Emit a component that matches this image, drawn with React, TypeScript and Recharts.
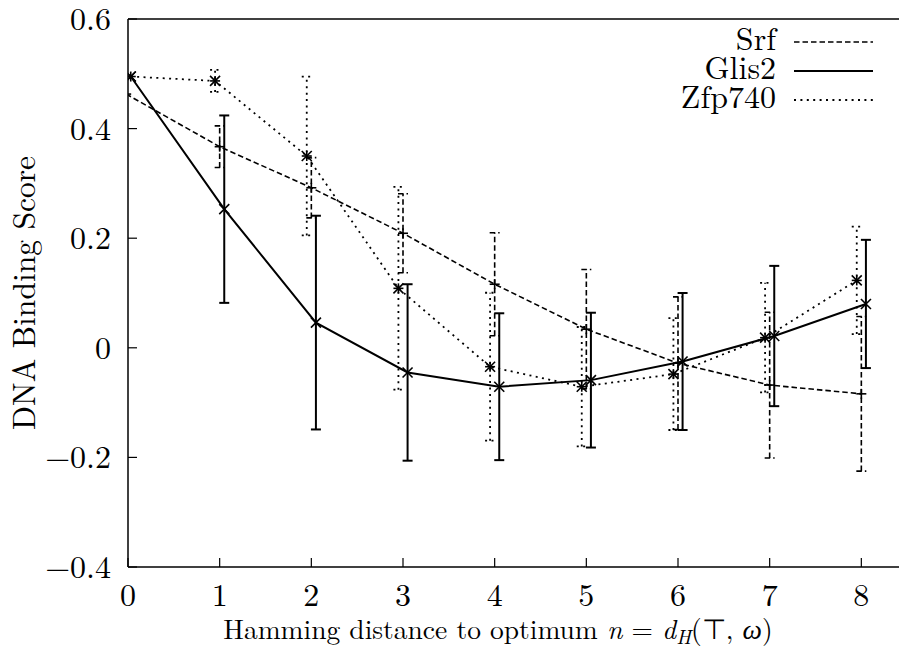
import React from 'react';
import { LineChart, Line, XAxis, YAxis, ErrorBar, ReferenceLine, Legend } from 'recharts';

// Hamming distance categories
const hamming = [0, 1, 2, 3, 4, 5, 6, 7, 8];
// plotted x positions (gnuplot-like small horizontal offsets per series)
const srfX = [-0.02, 1, 2, 3, 4, 5, 6, 7, 8];
const glis2X = [0.03, 1.05, 2.05, 3.05, 4.05, 5.05, 6.05, 7.05, 8.05];
const zfp740X = [0.03, 0.95, 1.95, 2.95, 3.95, 4.95, 5.95, 6.95, 7.95];

const srfScore = [0.463, 0.367, 0.292, 0.209, 0.116, 0.034, -0.028, -0.068, -0.084];
const srfErr = [0, 0.038, 0.055, 0.072, 0.094, 0.109, 0.121, 0.133, 0.141];
const glis2Score = [0.495, 0.253, 0.046, -0.045, -0.071, -0.059, -0.025, 0.0215, 0.08];
const glis2Err = [0, 0.171, 0.195, 0.161, 0.134, 0.123, 0.125, 0.128, 0.117];
const zfp740Score = [0.495, 0.487, 0.35, 0.1085, -0.0345, -0.071, -0.048, 0.0185, 0.123];
const zfp740Err = [0, 0.02, 0.145, 0.185, 0.135, 0.109, 0.102, 0.1, 0.098];

const xTicks = [0, 1, 2, 3, 4, 5, 6, 7, 8];
const yTicks = [-0.4, -0.2, 0, 0.2, 0.4, 0.6];
const seriesNames = ['Srf', 'Glis2', 'Zfp740'];

const build = (xs: number[], ys: number[], es: number[]) =>
  hamming.map((n, i) => ({ n, x: xs[i], y: ys[i], err: es[i] }));

const srfData = build(srfX, srfScore, srfErr);
const glis2Data = build(glis2X, glis2Score, glis2Err);
const zfp740Data = build(zfp740X, zfp740Score, zfp740Err);

const FONT = "'Latin Modern Roman'";
const FS = 32;
const DASH = '5.5 3';
const DOT = '2 4.4';

const txtStyle: React.CSSProperties = { fontFamily: FONT, fontSize: FS };
const labelStyle: React.CSSProperties = { fontFamily: FONT, fontSize: 27.5 };

const fmtY = (v: number) => {
  if (Math.abs(v) < 1e-9) return '0';
  const s = Math.abs(v).toFixed(1);
  return v < 0 ? '\u2212' + s : s;
};

const XTick = (props: any) => {
  const { x, y, payload } = props;
  return (
    <g>
      <line x1={x} x2={x} y1={y} y2={y - 9} stroke="#000" strokeWidth={1.2} />
      <text x={x} y={y + 39} textAnchor="middle" style={txtStyle} fill="#000">
        {payload.value}
      </text>
    </g>
  );
};

const YTick = (props: any) => {
  const { x, y, payload } = props;
  return (
    <g>
      <line x1={x} x2={x + 9} y1={y} y2={y} stroke="#000" strokeWidth={1.2} />
      <text x={x - 17} y={y + 11} textAnchor="end" style={txtStyle} fill="#000">
        {fmtY(payload.value)}
      </text>
    </g>
  );
};

const PlusDot = (props: any) => {
  const { cx, cy, index } = props;
  const r = 5;
  return (
    <g key={'p' + index}>
      <line x1={cx - r} x2={cx + r} y1={cy} y2={cy} stroke="#000" strokeWidth={1.6} />
      <line x1={cx} x2={cx} y1={cy - r} y2={cy + r} stroke="#000" strokeWidth={1.6} />
    </g>
  );
};

const CrossDot = (props: any) => {
  const { cx, cy, index } = props;
  const r = 5;
  return (
    <g key={'c' + index}>
      <line x1={cx - r} x2={cx + r} y1={cy - r} y2={cy + r} stroke="#000" strokeWidth={1.6} />
      <line x1={cx - r} x2={cx + r} y1={cy + r} y2={cy - r} stroke="#000" strokeWidth={1.6} />
    </g>
  );
};

const StarDot = (props: any) => {
  const { cx, cy, index } = props;
  const r = 5;
  return (
    <g key={'s' + index}>
      <line x1={cx - r} x2={cx + r} y1={cy} y2={cy} stroke="#000" strokeWidth={1.6} />
      <line x1={cx} x2={cx} y1={cy - r} y2={cy + r} stroke="#000" strokeWidth={1.6} />
      <line x1={cx - r} x2={cx + r} y1={cy - r} y2={cy + r} stroke="#000" strokeWidth={1.6} />
      <line x1={cx - r} x2={cx + r} y1={cy + r} y2={cy - r} stroke="#000" strokeWidth={1.6} />
    </g>
  );
};

const legendStyles = [
  { dash: DASH, w: 1.6 },
  { dash: undefined, w: 2 },
  { dash: DOT, w: 1.8 },
];

const LegendContent = () => (
  <svg width={250} height={110} style={{ display: 'block', overflow: 'visible' }}>
    {seriesNames.map((name, i) => (
      <g key={name}>
        <text x={126} y={30 + i * 29} textAnchor="end" style={txtStyle} fill="#000">
          {name}
        </text>
        <line
          x1={144}
          x2={223}
          y1={22 + i * 29}
          y2={22 + i * 29}
          stroke="#000"
          strokeWidth={legendStyles[i].w}
          strokeDasharray={legendStyles[i].dash}
        />
      </g>
    ))}
  </svg>
);

const XLabel = (props: any) => {
  const { viewBox } = props;
  const y = viewBox.y + 72;
  return (
    <text x={498} y={y} textAnchor="middle" style={labelStyle} fill="#000">
      <tspan>Hamming distance to optimum </tspan>
      <tspan fontStyle="italic">n</tspan>
      <tspan> = </tspan>
      <tspan fontStyle="italic">d</tspan>
      <tspan fontStyle="italic" style={{ fontSize: 20 }} dy={5}>H</tspan>
      <tspan dy={-5}>(⊤, </tspan>
      <tspan fontStyle="italic">ω</tspan>
      <tspan>)</tspan>
    </text>
  );
};

const YLabel = () => (
  <text
    x={35}
    y={293}
    transform="rotate(-90 35 293)"
    textAnchor="middle"
    style={{ fontFamily: FONT, fontSize: 31.5 }}
    fill="#000"
  >
    DNA Binding Score
  </text>
);

export default function App() {
  return (
    <div style={{ position: 'absolute', left: 0, top: 0, width: 899, height: 651, overflow: 'hidden', background: '#fff' }}>
      <LineChart width={953} height={651} margin={{ top: 19, right: 0, bottom: 24, left: 8 }}>
        <XAxis
          type="number"
          dataKey="x"
          domain={[0, 9]}
          ticks={xTicks}
          allowDataOverflow
          tickSize={0}
          tickMargin={0}
          tickLine={false}
          tick={<XTick />}
          height={60}
          axisLine={{ stroke: '#000', strokeWidth: 1.5 }}
          label={<XLabel />}
        />
        <YAxis
          type="number"
          dataKey="y"
          domain={[-0.4, 0.6]}
          ticks={yTicks}
          allowDataOverflow
          tickSize={0}
          tickMargin={0}
          tickLine={false}
          tick={<YTick />}
          width={120}
          axisLine={{ stroke: '#000', strokeWidth: 1.5 }}
          label={<YLabel />}
        />
        <ReferenceLine y={0.6} stroke="#000" strokeWidth={1.5} />
        <Legend
          layout="horizontal"
          verticalAlign="middle"
          align="center"
          content={<LegendContent />}
          wrapperStyle={{ position: 'absolute', left: 650, top: 20, width: 250, height: 110 }}
        />
        <Line
          data={srfData}
          dataKey="y"
          name="Srf"
          stroke="#000"
          strokeWidth={1.6}
          strokeDasharray={DASH}
          dot={PlusDot}
          activeDot={false}
          isAnimationActive={false}
        >
          <ErrorBar dataKey="err" direction="y" width={5} stroke="#000" strokeWidth={1.6} strokeDasharray={DASH} isAnimationActive={false} />
        </Line>
        <Line
          data={glis2Data}
          dataKey="y"
          name="Glis2"
          stroke="#000"
          strokeWidth={2}
          dot={CrossDot}
          activeDot={false}
          isAnimationActive={false}
        >
          <ErrorBar dataKey="err" direction="y" width={5} stroke="#000" strokeWidth={2} isAnimationActive={false} />
        </Line>
        <Line
          data={zfp740Data}
          dataKey="y"
          name="Zfp740"
          stroke="#000"
          strokeWidth={1.8}
          strokeDasharray={DOT}
          dot={StarDot}
          activeDot={false}
          isAnimationActive={false}
        >
          <ErrorBar dataKey="err" direction="y" width={5} stroke="#000" strokeWidth={1.8} strokeDasharray={DOT} isAnimationActive={false} />
        </Line>
      </LineChart>
    </div>
  );
}
